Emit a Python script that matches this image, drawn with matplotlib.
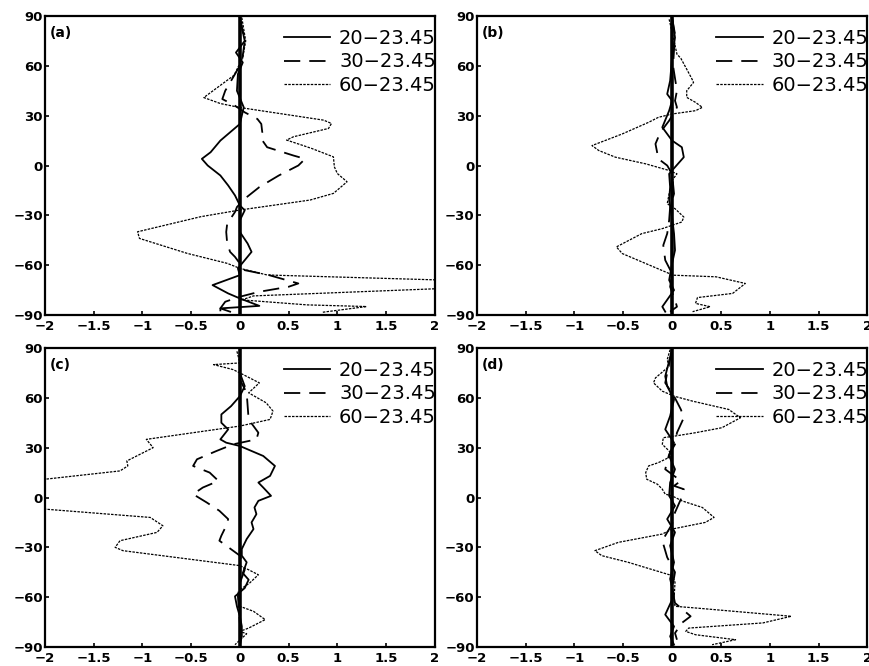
import matplotlib as mpl
import matplotlib.pyplot as plt

mpl.rcParams['axes.unicode_minus'] = True
mpl.rcParams['font.family'] = ['DejaVu Sans']

labels = ['20\u221223.45', '30\u221223.45', '60\u221223.45']
panel_names = ['(a)', '(b)', '(c)', '(d)']

xticks = [-2, -1.5, -1, -0.5, 0, 0.5, 1, 1.5, 2]
xticklabels = ['\u22122', '\u22121.5', '\u22121', '\u22120.5', '0', '0.5', '1', '1.5', '2']
yticks = [-90, -60, -30, 0, 30, 60, 90]

# (a)
a_lat_20 = [89, 75, 68, 62, 55, 45, 35, 25, 15, 8, 4, 0, -6, -12, -18, -24, -27, -33, -40, -47, -52, -57, -62, -66, -72, -77, -80, -84.5, -86, -88]
a_val_20 = [0.0, 0.05, -0.04, 0.03, -0.02, -0.03, 0.04, 0.0, -0.2, -0.3, -0.39, -0.33, -0.2, -0.12, -0.05, 0.0, 0.05, 0.0, 0.0, 0.08, 0.12, 0.05, -0.02, 0.0, -0.28, -0.12, 0.0, 0.2, -0.2, -0.1]
a_lat_30 = [89, 75, 62, 55, 45, 40, 36, 32, 28, 25, 20, 16, 11, 6, 4, 0, -6, -13, -20, -25, -28, -35, -40, -47, -52, -55, -63, -66, -71, -73, -76, -79, -82, -86, -89]
a_val_30 = [0.0, 0.05, 0.02, -0.05, -0.15, -0.18, -0.05, 0.05, 0.18, 0.22, 0.23, 0.22, 0.28, 0.55, 0.67, 0.6, 0.4, 0.2, 0.05, -0.03, -0.05, -0.13, -0.14, -0.13, -0.1, -0.05, 0.05, 0.3, 0.6, 0.5, 0.2, 0.0, -0.15, -0.2, -0.2]
a_lat_60 = [89, 75, 65, 54.3, 40.9, 37.3, 34.9, 27.3, 25.3, 22.3, 17.3, 15.3, 12.2, 10.2, 5.2, -0.8, -4.8, -9.8, -16.8, -20.8, -26.8, -30.8, -39.9, -43.9, -52.9, -58.9, -61.9, -65.9, -69.5, -73.3, -78.5, -80.9, -83.9, -84.9, -88.4]
a_val_60 = [0.02, 0.06, 0.03, -0.06, -0.37, -0.2, 0.0, 0.86, 0.94, 0.91, 0.55, 0.48, 0.64, 0.74, 0.96, 0.97, 1.0, 1.1, 0.96, 0.72, 0.0, -0.4, -1.05, -1.03, -0.54, -0.13, 0.0, 0.28, 2.4, 2.4, 0.14, 0.02, 0.69, 1.3, 0.84]

# (b)
b_lat_20 = [89, 77, 65, 51, 43, 39, 33, 23, 15, 11, 5, -1, -5, -13, -21, -31, -41, -51, -59, -69, -75, -85, -88]
b_val_20 = [0.0, 0.03, 0.0, -0.02, -0.05, 0.0, -0.03, -0.1, 0.0, 0.1, 0.12, 0.03, -0.03, -0.02, -0.03, 0.0, 0.02, 0.03, 0.0, -0.03, 0.02, -0.1, -0.07]
b_lat_30 = [89, 79, 60, 45, 39, 35, 27, 20, 13, 4, 0, -5, -17, -25, -33, -41, -48, -57, -65, -73, -81, -85, -88]
b_val_30 = [0.0, 0.03, 0.01, 0.05, 0.03, 0.05, -0.03, -0.12, -0.17, -0.14, -0.05, 0.0, 0.02, -0.02, -0.03, -0.05, -0.09, -0.07, 0.0, -0.02, 0.03, 0.05, -0.02]
b_lat_60 = [88, 75, 67, 64.5, 52.5, 50, 45, 41, 38, 35, 33, 31, 29, 26, 19, 12, 9, 5, 1, -3, -5, -9, -17, -23, -26, -31, -34, -38, -41, -49, -53, -59, -65, -66, -67, -71, -77, -79.5, -83, -85, -88]
b_val_60 = [-0.03, 0.02, 0.05, 0.09, 0.2, 0.22, 0.15, 0.15, 0.24, 0.31, 0.24, 0.0, -0.14, -0.24, -0.51, -0.82, -0.75, -0.58, -0.27, -0.03, 0.05, 0.0, -0.03, -0.05, 0.03, 0.12, 0.1, -0.1, -0.31, -0.57, -0.51, -0.27, -0.03, 0.0, 0.45, 0.75, 0.62, 0.26, 0.24, 0.39, 0.21]

# (c)
c_lat_20 = [89, 75, 67, 61, 55, 50, 45, 41, 35, 33, 31, 25, 19, 13, 9, 6, 1, -2, -6, -10, -15, -19, -25, -31, -35, -39, -45.5, -49.5, -54.5, -59.5, -65.5, -71.5, -77.5, -83.5, -89]
c_val_20 = [0.0, 0.0, 0.05, 0.0, -0.09, -0.19, -0.19, -0.12, -0.2, -0.14, 0.0, 0.24, 0.36, 0.31, 0.19, 0.24, 0.32, 0.19, 0.15, 0.17, 0.12, 0.14, 0.07, 0.02, 0.02, 0.07, 0.03, 0.09, 0.05, -0.05, -0.03, 0.0, 0.02, 0.02, 0.0]
c_lat_30 = [89, 71, 63, 47, 43, 39, 35, 32, 28, 23, 19, 15, 10, 6, 2, -3, -8, -13, -17, -23, -26, -29, -35, -43.5, -51.5, -59.5, -75.5, -85.6]
c_val_30 = [0.0, 0.0, 0.07, 0.09, 0.14, 0.19, 0.17, -0.07, -0.24, -0.44, -0.48, -0.31, -0.22, -0.38, -0.48, -0.34, -0.21, -0.12, -0.14, -0.19, -0.21, -0.14, 0.0, 0.05, 0.0, -0.02, 0.0, 0.02]
c_lat_60 = [88, 81, 80, 77, 75, 69, 63, 57, 52, 47, 43, 35, 30, 22, 19, 16, 11, 8, 0, -4, -7, -12, -17, -21, -26, -30, -32, -41, -43.5, -46.5, -51.5, -55.5, -65.5, -68.5, -73.5, -78.6, -80.6, -82, -88.6]
c_val_60 = [-0.03, 0.0, -0.27, -0.07, 0.0, 0.2, 0.09, 0.27, 0.34, 0.31, 0.0, -0.96, -0.89, -1.16, -1.15, -1.23, -2.0, -2.6, -2.8, -2.5, -2.0, -0.92, -0.79, -0.85, -1.23, -1.28, -1.2, 0.0, 0.09, 0.19, 0.1, 0.0, 0.0, 0.14, 0.26, 0.09, 0.0, 0.07, -0.05]

# (d)
d_lat_20 = [89, 73, 67, 59, 49, 41, 33, 25, 17, 9, 1, -5, -13, -21, -29, -39, -49, -59, -70.5, -77.6, -83.6, -88.6]
d_val_20 = [0.0, -0.07, -0.05, 0.02, -0.02, -0.07, 0.02, -0.03, 0.03, -0.02, -0.03, 0.03, -0.05, 0.03, -0.02, 0.02, -0.02, 0.02, -0.07, 0.02, -0.02, 0.02]
d_lat_30 = [89, 75, 69, 61, 53, 48, 39, 32, 26, 17, 10, 7, 5, -1, -9, -16, -26, -36, -45, -55, -63.5, -71.5, -75.5, -81.6, -85.6]
d_val_30 = [0.0, -0.05, -0.07, 0.02, 0.09, 0.12, 0.05, 0.03, -0.03, -0.07, 0.09, 0.02, 0.12, 0.09, 0.03, 0.0, -0.1, -0.05, 0.03, 0.0, 0.03, 0.19, 0.1, 0.03, 0.05]
d_lat_60 = [89, 83, 79, 72, 69, 64, 61, 58, 53, 48, 42, 39, 37, 36, 32, 28, 25, 21, 19, 15, 11, 8, 5, 2, 1, -2, -6, -12, -15, -19, -22, -27, -32, -35, -39, -47, -51, -61.5, -65.5, -66.5, -71.5, -75.5, -78.6, -80.6, -82.6, -85.6, -88.6]
d_val_60 = [-0.02, -0.05, -0.03, -0.17, -0.19, -0.1, 0.02, 0.21, 0.58, 0.7, 0.51, 0.24, 0.03, -0.09, -0.1, -0.03, 0.0, -0.14, -0.24, -0.27, -0.26, -0.15, -0.1, -0.07, 0.0, 0.1, 0.31, 0.43, 0.34, 0.0, -0.1, -0.55, -0.79, -0.72, -0.45, 0.0, 0.03, 0.02, 0.03, 0.24, 1.22, 0.93, 0.17, 0.14, 0.24, 0.65, 0.41]

panels = [
    (a_lat_20, a_val_20, a_lat_30, a_val_30, a_lat_60, a_val_60),
    (b_lat_20, b_val_20, b_lat_30, b_val_30, b_lat_60, b_val_60),
    (c_lat_20, c_val_20, c_lat_30, c_val_30, c_lat_60, c_val_60),
    (d_lat_20, d_val_20, d_lat_30, d_val_30, d_lat_60, d_val_60),
]

fig = plt.figure(figsize=(8.7, 6.66), dpi=100)
boxes = [
    [0.0517, 0.527, 0.448, 0.449],
    [0.548, 0.527, 0.449, 0.449],
    [0.0517, 0.0285, 0.448, 0.449],
    [0.548, 0.0285, 0.449, 0.449],
]

for box, name, data in zip(boxes, panel_names, panels):
    ax = fig.add_axes(box)
    lat20, v20, lat30, v30, lat60, v60 = data
    ax.axvline(0, color='black', lw=2.6, zorder=1)
    ax.plot(v20, lat20, color='black', lw=1.3, ls='-', label=labels[0])
    ax.plot(v30, lat30, color='black', lw=1.3, ls=(0, (9, 5)), label=labels[1])
    ax.plot(v60, lat60, color='black', lw=0.9, ls=(0, (2, 1)), label=labels[2])
    ax.set_xlim(-2, 2)
    ax.set_ylim(-90, 90)
    ax.set_xticks(xticks)
    ax.set_xticklabels(xticklabels)
    ax.set_yticks(yticks)
    ax.set_yticklabels([str(t).replace('-', '\u2212') for t in yticks])
    ax.tick_params(direction='in', length=3, width=1.2, labelsize=9.5)
    ax.tick_params(axis='x', pad=3.5)
    ax.tick_params(axis='y', pad=1.5)
    for lbl in ax.get_xticklabels() + ax.get_yticklabels():
        lbl.set_fontweight('bold')
    for sp in ax.spines.values():
        sp.set_linewidth(1.6)
    ax.text(0.012, 0.965, name, transform=ax.transAxes, fontsize=10,
            fontweight='bold', va='top', ha='left')
    ax.legend(loc='upper right', bbox_to_anchor=(1.003, 0.958), frameon=False,
              fontsize=14, handlelength=2.4, handletextpad=0.45,
              labelspacing=0.25, borderaxespad=0.0, borderpad=0.0)

fig.savefig('out.png', dpi=100)
